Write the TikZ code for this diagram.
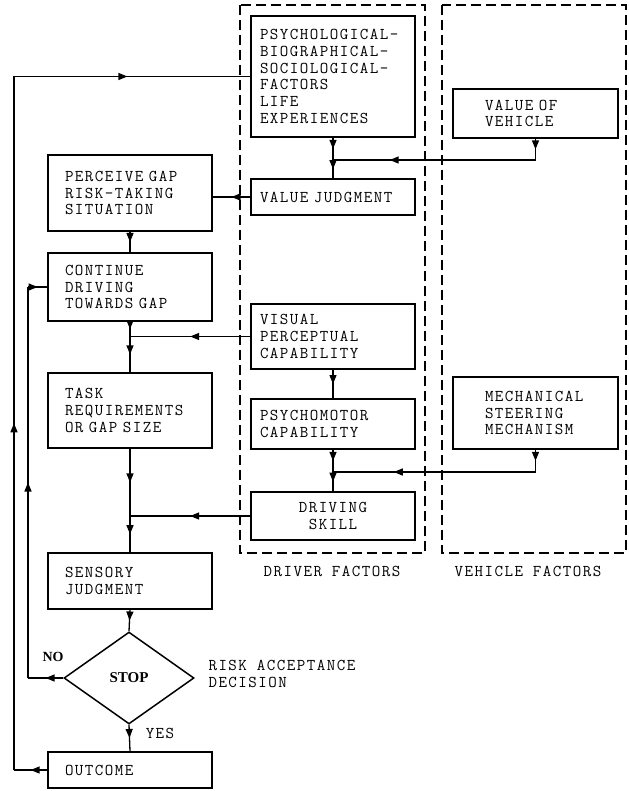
\documentclass[tikz,border=0pt]{standalone}
\usepackage{fontspec}
\setmainfont{Latin Modern Mono}[LetterSpace=9]
\newfontfamily\decfont{Liberation Serif}
\usetikzlibrary{arrows.meta,calc,shapes.geometric,decorations.markings}
\newcommand\boxfont{\fontsize{16.5}{16.7}\selectfont}

\begin{document}
\begin{tikzpicture}[x=1pt,y=-1pt]
\tikzset{
  box/.style={draw,line width=1.5pt,inner ysep=0pt,font=\boxfont},
  lbox/.style={box,text width=130pt,inner xsep=17pt,align=left},
  dbox/.style={box,text width=146pt,inner xsep=9pt,align=left},
  vbox/.style={box,text width=101pt,inner xsep=32pt,align=left},
  flow/.style={line width=1.3pt},
  midarrow/.style={flow,postaction={decorate},
    decoration={markings,mark=at position #1 with {\arrow{Triangle[length=9pt,width=7pt]}}}},
  midarrow/.default=0.5,
  group/.style={line width=1.4pt,dash pattern=on 10pt off 5pt}
}
\useasboundingbox (0,0) rectangle (628,791);

\draw[group] (240,5) rectangle (425,553);
\draw[group] (442,5) rectangle (626,553);
\node[font=\boxfont] (drvlabel) at (332,571) {DRIVER FACTORS};
\node[font=\boxfont] (vehlabel) at (528,571) {VEHICLE FACTORS};

\node[dbox,minimum height=121pt] (psych) at (333,76.5)
  {PSYCHOLOGICAL-\\BIOGRAPHICAL-\\SOCIOLOGICAL-\\FACTORS\\LIFE\\EXPERIENCES};
\node[dbox,minimum height=36pt] (valjud) at (333,197) {VALUE JUDGMENT};
\node[dbox,minimum height=65pt] (visual) at (333,336.5) {VISUAL\\PERCEPTUAL\\CAPABILITY};
\node[dbox,minimum height=50pt] (psymot) at (333,424) {PSYCHOMOTOR\\CAPABILITY};
\node[dbox,align=center,minimum height=48pt] (skill) at (333,516) {DRIVING\\SKILL};

\node[vbox,minimum height=49pt] (valveh) at (535.5,113.5) {VALUE OF\\VEHICLE};
\node[vbox,minimum height=72pt] (mech) at (535.5,413) {MECHANICAL\\STEERING\\MECHANISM};

\node[lbox,minimum height=76pt] (perceive) at (130,193) {PERCEIVE GAP\\RISK-TAKING\\SITUATION};
\node[lbox,minimum height=68pt] (cont) at (130,287) {CONTINUE\\DRIVING\\TOWARDS GAP};
\node[lbox,minimum height=75pt] (task) at (130,410.5) {TASK\\REQUIREMENTS\\OR GAP SIZE};
\node[lbox,minimum height=56pt] (sensory) at (130,581) {SENSORY\\JUDGMENT};
\node[draw,diamond,line width=1.5pt,inner sep=0pt,minimum width=130pt,minimum height=92pt,
  font=\decfont\bfseries\fontsize{15}{15}\selectfont] (stop) at (129,678) {STOP};
\node[lbox,minimum height=36pt] (outcome) at (130,770) {OUTCOME};

\node[font=\decfont\bfseries\fontsize{14}{14}\selectfont] (nolabel) at (53,657) {NO};
\node[font=\boxfont] (yeslabel) at (160,733) {YES};
\node[font=\boxfont,align=left,anchor=west] (risk) at (205,674) {RISK ACCEPTANCE\\DECISION};

\coordinate (j1) at (333,160);
\coordinate (vj1) at (valveh.south |- j1);
\coordinate (j2) at (cont.south |- visual.west);
\coordinate (j3) at (cont.south |- skill.west);
\coordinate (j4) at (333,472);
\coordinate (vj2) at (mech.south |- j4);
\coordinate (n1) at (28,678);
\coordinate (n2) at (n1 |- cont.west);
\coordinate (o1) at (14,770);
\coordinate (o2) at (o1 |- psych.west);

\draw[midarrow] (psych.south) -- (j1);
\draw[midarrow] (j1) -- (valjud.north);
\draw[midarrow] (valveh.south) -- (vj1);
\draw[midarrow=0.72] (vj1) -- (j1);
\draw[midarrow] (valjud.west) -- (valjud.west -| perceive.east);
\draw[midarrow] (perceive.south) -- (cont.north);

\draw[midarrow] (cont.south) -- (j2);
\draw[midarrow] (j2) -- (task.north);
\draw[midarrow] (visual.west) -- (j2);
\draw[midarrow] (visual.south) -- (psymot.north);
\draw[midarrow] (psymot.south) -- (j4);
\draw[midarrow] (j4) -- (skill.north);
\draw[midarrow] (mech.south) -- (vj2);
\draw[midarrow=0.7] (vj2) -- (j4);

\draw[midarrow] (task.south) -- (j3);
\draw[midarrow] (j3) -- (sensory.north);
\draw[midarrow] (skill.west) -- (j3);
\draw[midarrow] (sensory.south) -- (stop.north);
\draw[midarrow] (stop.south) -- (outcome.north);

\draw[midarrow] (stop.west) -- (n1);
\draw[midarrow] (n1) -- (n2);
\draw[midarrow] (n2) -- (cont.west);
\draw[midarrow] (outcome.west) -- (o1);
\draw[midarrow] (o1) -- (o2);
\draw[midarrow=0.48] (o2) -- (psych.west);
\end{tikzpicture}
\end{document}
